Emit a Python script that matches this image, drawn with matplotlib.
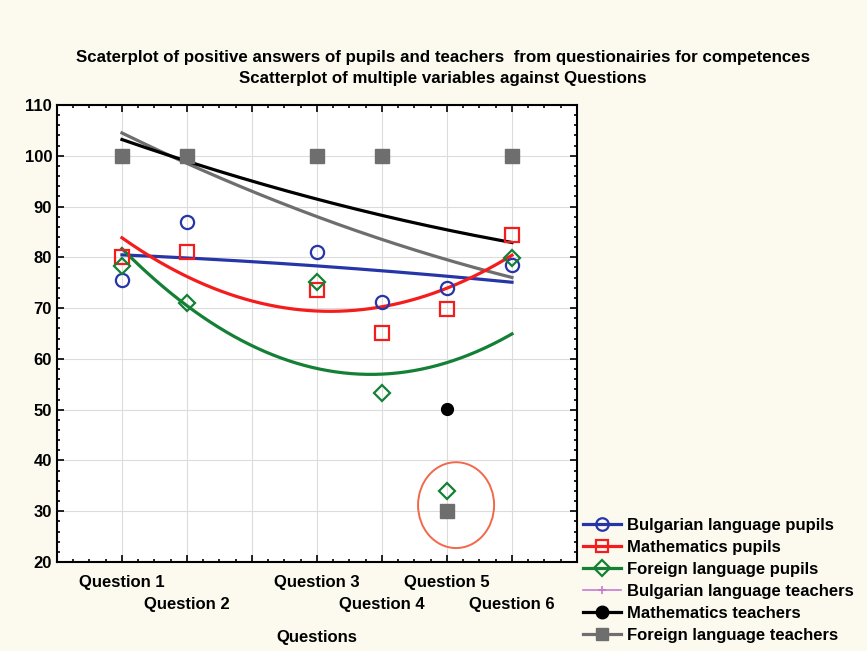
import numpy as np
import matplotlib
matplotlib.use('Agg')
import matplotlib.pyplot as plt
from matplotlib import font_manager
from matplotlib.lines import Line2D
from matplotlib.patches import Ellipse

questions = ['Question 1', 'Question 2', 'Question 3', 'Question 4', 'Question 5', 'Question 6']
question_x = [1, 2, 4, 5, 6, 7]

bulgarian_pupils = [75.6, 87.0, 81.0, 71.3, 74.0, 78.5]
math_pupils = [80.1, 81.1, 73.6, 65.1, 69.8, 84.4]
foreign_pupils = [78.2, 71.0, 75.2, 53.3, 33.9, 79.9]
bulgarian_teachers = [100, 100, 100, 100, np.nan, 100]
math_teachers = [100, 100, 100, 100, 50.2, 100]
foreign_teachers = [100, 100, 100, 100, 30.1, 100]

BG = '#FCFAEF'
BLUE = '#2636A8'
RED = '#F41C1C'
GREEN = '#138035'
MAGENTA = '#C77BD0'
GRAY = '#6E6E6E'

names = {f.name for f in font_manager.fontManager.ttflist}
plt.rcParams['font.family'] = ['Liberation Sans', 'DejaVu Sans']
plt.rcParams['font.weight'] = 'bold'
if 'Liberation Sans Narrow' in names:
    title_font = dict(family=['Liberation Sans Narrow', 'Liberation Sans'], size=14)
else:
    title_font = dict(family=['Liberation Sans', 'DejaVu Sans'], size=12.2)

fig = plt.figure(figsize=(8.67, 6.51), dpi=100, facecolor=BG)
ax = fig.add_axes([0.0657, 0.1367, 0.5998, 0.702])
ax.set_facecolor('white')

xs = np.linspace(1, 7, 200)
xq = np.array(question_x, dtype=float)


def fit(y):
    c = np.polyfit(xq, np.array(y, dtype=float), 2)
    return np.polyval(c, xs)


ax.plot(xs, fit(foreign_teachers), color=GRAY, lw=2.3, zorder=3)
ax.plot(xs, fit(math_teachers), color='black', lw=2.3, zorder=3)
ax.plot(xs, fit(bulgarian_pupils), color=BLUE, lw=2.3, zorder=3)
ax.plot(xs, fit(math_pupils), color=RED, lw=2.3, zorder=3)
ax.plot(xs, fit(foreign_pupils), color=GREEN, lw=2.3, zorder=3)

ax.plot(question_x, bulgarian_teachers, '+', color=MAGENTA, ms=6, mew=1.2, ls='none', zorder=4)
ax.plot(question_x, math_teachers, 'o', color='black', ms=8.5, ls='none', zorder=4)
ax.plot(question_x, foreign_teachers, 's', color=GRAY, ms=10.5, ls='none', zorder=5)
ax.plot(question_x, bulgarian_pupils, 'o', mfc='none', mec=BLUE, ms=9.5, mew=1.6, ls='none', zorder=6)
ax.plot(question_x, math_pupils, 's', mfc='none', mec=RED, ms=9.5, mew=1.6, ls='none', zorder=6)
ax.plot(question_x, foreign_pupils, 'D', mfc='none', mec=GREEN, ms=8.5, mew=1.6, ls='none', zorder=7)

# highlight of the outlying answers
ax.add_patch(Ellipse((6.14, 31.2), 1.17, 16.9, fill=False, ec='#F26848', lw=1.4, zorder=8))

ax.set_xlim(0, 8)
ax.set_ylim(20, 110)
ticks = list(range(0, 9))
labels = ['' for t in ticks]
for q, xv in zip(questions, question_x):
    labels[xv] = q
ax.set_xticks(ticks)
ax.set_xticklabels(labels, fontsize=12, fontweight='bold')
ax.set_xticks(np.arange(0, 8.01, 0.25), minor=True)
ax.set_yticks(range(20, 111, 10))
ax.set_yticks(range(20, 111, 2), minor=True)
ax.tick_params(axis='y', labelsize=12)
ax.tick_params(which='both', direction='in', top=True, right=True, width=1.2)
ax.tick_params(which='major', length=5)
ax.tick_params(which='minor', length=2.5)
for i, t in enumerate(ax.xaxis.get_major_ticks()):
    t.set_pad(25 if i in (2, 5, 7) else 9)
ax.grid(True, which='major', color='#DCDCDC', lw=0.8)
ax.set_axisbelow(True)
for s in ax.spines.values():
    s.set_linewidth(1.5)
ax.set_xlabel('Questions', fontsize=12, fontweight='bold', labelpad=13)

fig.text(0.511, 0.912, 'Scaterplot of positive answers of pupils and teachers  from questionairies for competences',
         ha='center', va='center', fontweight='bold', **title_font)
fig.text(0.511, 0.879, 'Scatterplot of multiple variables against Questions',
         ha='center', va='center', fontweight='bold', **title_font)

handles = [
    Line2D([], [], color=BLUE, lw=2.3, marker='o', mfc='none', mec=BLUE, ms=9, mew=1.6),
    Line2D([], [], color=RED, lw=2.3, marker='s', mfc='none', mec=RED, ms=8, mew=1.6),
    Line2D([], [], color=GREEN, lw=2.3, marker='D', mfc='none', mec=GREEN, ms=8, mew=1.6),
    Line2D([], [], color=MAGENTA, lw=1.2, marker='+', ms=6, mew=1.2),
    Line2D([], [], color='black', lw=2.3, marker='o', ms=9),
    Line2D([], [], color=GRAY, lw=2.3, marker='s', ms=9),
]
leg_labels = ['Bulgarian language pupils', 'Mathematics pupils', 'Foreign language pupils',
              'Bulgarian language teachers', 'Mathematics teachers', 'Foreign language teachers']
fig.legend(handles, leg_labels, loc='lower left', bbox_to_anchor=(0.672, 0.012),
           frameon=False, fontsize=12, handlelength=2.3, handletextpad=0.35,
           labelspacing=0.42, borderpad=0, borderaxespad=0)

fig.savefig('out.png', dpi=100, facecolor=BG)
